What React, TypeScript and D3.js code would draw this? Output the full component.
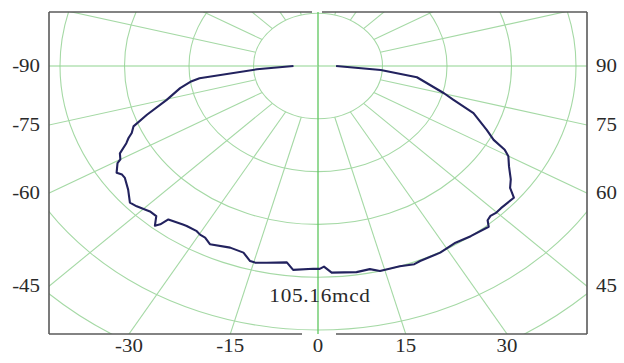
import React from "react";
import * as d3 from "d3";

// Measured luminous intensity (mcd) versus emission angle (degrees)
const angles = [
  -90, -86.2, -82.8, -81.4, -78.9, -74.7, -70.8, -68.2, -66.3, -65.1, -63.8, -61.7, -60.0, -59.4,
  -57.1, -55.9, -54.7, -51.5, -48.4, -46.6, -43.4, -41.4, -39.9, -39.2, -38.6, -34.9, -33.9, -31.0,
  -29.8, -28.3, -26.4, -21.6, -18.1, -15.9, -14.7, -12.1, -7.4, -5.7, -1.1, 0.4, 1.4, 3.1, 8.7, 11.8,
  13.9, 18.5, 21.7, 23.2, 28.2, 32.5, 36.3, 41.0, 42.0, 43.3, 44.9, 46.5, 50.6, 51.4, 52.2, 54.3,
  57.3, 59.9, 61.3, 62.8, 65.2, 69.7, 73.1, 75.2, 82.1, 85.6, 90,
];
const intensity = [
  9.9, 24.7, 48.2, 52.1, 56.7, 63.3, 73.1, 80.2, 82.1, 84.3, 86.2, 90.8, 92.1, 94.0,
  96.8, 95.5, 95.5, 97.9, 101.5, 100.7, 98.7, 98.7, 102.6, 100.7, 96.8, 95.3, 95.0, 95.0,
  95.8, 96.1, 98.1, 96.3, 96.8, 100.0, 100.2, 99.2, 97.6, 101.0, 100.0, 100.0, 98.9, 102.0, 102.8, 102.3,
  104.1, 104.1, 105.16, 104.6, 104.4, 103.3, 104.1, 105.0, 102.3, 101.5, 102.0, 101.8, 102.3, 100.2, 98.1, 95.8,
  91.6, 88.8, 85.9, 79.7, 75.0, 66.9, 57.0, 52.6, 40.3, 25.4, 7.3,
];
const ringLevels = [1, 2, 3, 4, 5, 6, 7]; // grid rings, in ring steps
const RING_STEP_MCD = 26.03;
const spokeAngles = d3.range(0, 360, 15);
const leftTicks = [-90, -75, -60, -45];
const rightTicks = [90, 75, 60, 45];
const bottomTicks = [-30, -15, 0, 15, 30];
const peakLabel = "105.16mcd";

const W = 624;
const H = 363;
const frame = { l: 49, t: 12, r: 587, b: 334 };
const cx = 318;
const cy = 66;
const KX = 64.5;
const KY = 52.8;

const uScale = d3.scaleLinear().domain([0, RING_STEP_MCD]).range([0, 1]);
const xs = d3.scaleLinear().domain([0, 1]).range([cx, cx + KX]);
const ys = d3.scaleLinear().domain([0, 1]).range([cy, cy + KY]);

const rad = (deg: number) => (deg * Math.PI) / 180;
const px = (deg: number, u: number): [number, number] => [
  xs(u * Math.sin(rad(deg))),
  ys(u * Math.cos(rad(deg))),
];

const FONT = "'Liberation Serif', 'Times New Roman', serif";
const TXT = "#2a2a2a";

function Label({
  x,
  y,
  text,
  anchor,
  sx = 1.16,
  ls = 0,
}: {
  x: number;
  y: number;
  text: string;
  anchor: string;
  sx?: number;
  ls?: number;
}) {
  return (
    <text
      transform={`translate(${x},${y}) scale(${sx},1)`}
      textAnchor={anchor}
      fontFamily={FONT}
      fontSize={18}
      letterSpacing={ls}
      fill={TXT}
    >
      {text}
    </text>
  );
}

export default function App() {
  const line = d3
    .line<number>()
    .x((_, i) => px(angles[i], uScale(intensity[i]))[0])
    .y((_, i) => px(angles[i], uScale(intensity[i]))[1])
    .curve(d3.curveLinear);
  const curvePath = line(intensity) || "";

  const sideY = (deg: number) => {
    const u = (cx - frame.l) / (KX * Math.abs(Math.sin(rad(deg))));
    return px(deg, u)[1];
  };
  const bottomX = (deg: number) => {
    const u = (frame.b - cy) / (KY * Math.cos(rad(deg)));
    return px(deg, u)[0];
  };

  return (
    <svg width={W} height={H} style={{ position: "absolute", left: 0, top: 0, background: "#fff" }}>
      <defs>
        <clipPath id="plotClip">
          <rect x={frame.l} y={frame.t} width={frame.r - frame.l} height={frame.b - frame.t} />
        </clipPath>
      </defs>
      <rect x={0} y={0} width={W} height={H} fill="#fff" />
      <g clipPath="url(#plotClip)">
        {ringLevels.map((k) => (
          <ellipse
            key={k}
            cx={cx}
            cy={cy}
            rx={xs(k) - cx}
            ry={ys(k) - cy}
            fill="none"
            stroke="#a5d9a5"
            strokeWidth={1.1}
          />
        ))}
        {spokeAngles.map((a) => {
          const through = a % 90 === 0;
          const [x1, y1] = px(a, through ? 0 : 1);
          const [x2, y2] = px(a, 12);
          const isV = a === 0 || a === 180;
          return (
            <line
              key={a}
              x1={x1}
              y1={y1}
              x2={x2}
              y2={y2}
              stroke={isV ? "#5fc65f" : through ? "#90d490" : "#a5d9a5"}
              strokeWidth={isV ? 1.3 : 1.1}
            />
          );
        })}
        <path d={curvePath} fill="none" stroke="#22225e" strokeWidth={2.1} strokeLinejoin="round" />
      </g>
      {/* frame */}
      <g stroke="#5a5a5a" strokeWidth={1.6}>
        <line x1={frame.l} y1={frame.t} x2={312} y2={frame.t} />
        <line x1={322} y1={frame.t} x2={frame.r} y2={frame.t} />
        <line x1={frame.l} y1={frame.b} x2={302} y2={frame.b} />
        <line x1={336} y1={frame.b} x2={frame.r} y2={frame.b} />
        <line x1={frame.l} y1={frame.t} x2={frame.l} y2={frame.b} />
        <line x1={frame.r} y1={frame.t} x2={frame.r} y2={frame.b} />
      </g>
      {leftTicks.map((t) => (
        <Label key={t} x={40} y={sideY(t) + 6} text={String(t)} anchor="end" />
      ))}
      {rightTicks.map((t) => (
        <Label key={t} x={596} y={sideY(t) + 6} text={String(t)} anchor="start" />
      ))}
      {bottomTicks.map((t) => (
        <Label key={t} x={bottomX(t)} y={352} text={String(t)} anchor="middle" />
      ))}
      <Label x={320} y={302} text={peakLabel} anchor="middle" sx={1.18} ls={0.6} />
    </svg>
  );
}
